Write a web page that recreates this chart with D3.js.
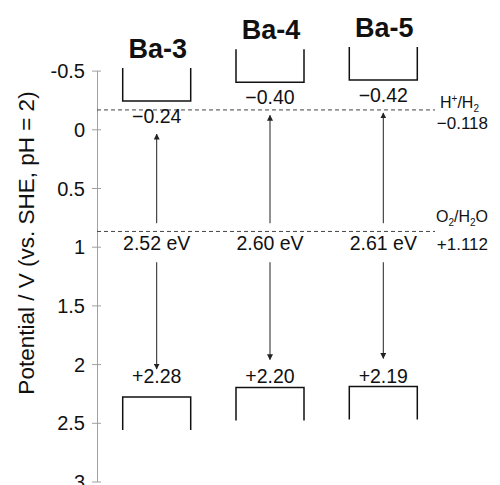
<!DOCTYPE html>
<html>
<head>
<meta charset="utf-8">
<script src="https://cdn.jsdelivr.net/npm/d3@7"></script>
<style>
  body { margin: 0; background: #fff; }
  svg { display: block; font-family: "Liberation Sans", Arial, sans-serif; }
</style>
</head>
<body>
<div id="chart"></div>
<script>
// band edge data (V vs. SHE, pH = 2)
const materials = ['Ba-3', 'Ba-4', 'Ba-5'];
const cbValues = [-0.24, -0.40, -0.42];
const vbValues = [2.28, 2.20, 2.19];
const cbLabels = ['\u22120.24', '\u22120.40', '\u22120.42'];
const vbLabels = ['+2.28', '+2.20', '+2.19'];
const gapLabels = ['2.52 eV', '2.60 eV', '2.61 eV'];

// redox levels: where the dashed line sits on the axis, and its printed value
const redoxPos = [-0.165, 0.87];
const redoxValues = ['\u22120.118', '+1.112'];

const yTicks = [-0.5, 0, 0.5, 1, 1.5, 2, 2.5, 3];

const width = 500;
const height = 485;
const axisX = 97;
const boxW = 68;
const boxH = 33;

const svg = d3.select('#chart')
    .append('svg')
    .attr('width', width)
    .attr('height', height);

const yScale = d3.scaleLinear().domain([-0.5, 3]).range([70.6, 481.5]);
const xScale = d3.scalePoint().domain(materials).range([156.7, 383.3]);

// arrow head
svg.append('defs').append('marker')
    .attr('id', 'head')
    .attr('viewBox', '0 0 10 10')
    .attr('refX', 9)
    .attr('refY', 5)
    .attr('markerWidth', 6)
    .attr('markerHeight', 6)
    .attr('markerUnits', 'userSpaceOnUse')
    .attr('orient', 'auto')
    .append('path')
    .attr('d', 'M0,0L10,5L0,10z')
    .attr('fill', '#222');

// Y axis
const axis = svg.append('g')
    .attr('transform', `translate(${axisX},0)`)
    .call(d3.axisLeft(yScale).tickValues(yTicks).tickSizeOuter(0).tickFormat(d => String(d)));

axis.select('.domain').attr('stroke', '#a0a0a0');
axis.selectAll('.tick line').attr('stroke', '#a0a0a0').attr('x1', 4).attr('x2', -5);
axis.selectAll('.tick text')
    .attr('x', -12)
    .attr('dy', '0.35em')
    .attr('fill', '#111')
    .style('font-size', '20px')
    .style('font-family', '"Liberation Sans", Arial, sans-serif');

svg.append('text')
    .attr('transform', `translate(34,243) rotate(-90)`)
    .attr('text-anchor', 'middle')
    .style('font-size', '22.5px')
    .attr('fill', '#111')
    .text('Potential / V (vs. SHE, pH = 2)');

// redox dashed lines
svg.append('g')
    .selectAll('line')
    .data(redoxPos)
    .enter()
    .append('line')
    .attr('x1', axisX)
    .attr('x2', 435)
    .attr('y1', d => yScale(d))
    .attr('y2', d => yScale(d))
    .attr('stroke', '#444')
    .attr('stroke-width', 1)
    .attr('stroke-dasharray', '4,3');

const gapY = yScale(1.03);

const redoxName = svg.append('g').style('font-size', '16px').attr('fill', '#111');

const h = redoxName.append('text')
    .attr('x', 440)
    .attr('y', yScale(redoxPos[0]) - 2);
h.append('tspan').text('H');
h.append('tspan').attr('dy', -6).style('font-size', '10px').text('+');
h.append('tspan').attr('dy', 6).text('/H');
h.append('tspan').attr('dy', 4).style('font-size', '10px').text('2');

const o = redoxName.append('text')
    .attr('x', 436)
    .attr('y', yScale(redoxPos[1]) - 9);
o.append('tspan').text('O');
o.append('tspan').attr('dy', 4).style('font-size', '10px').text('2');
o.append('tspan').attr('dy', -4).text('/H');
o.append('tspan').attr('dy', 4).style('font-size', '10px').text('2');
o.append('tspan').attr('dy', -4).text('O');

svg.append('g')
    .selectAll('text')
    .data(redoxValues)
    .enter()
    .append('text')
    .attr('x', 488)
    .attr('y', (d, i) => i === 0 ? yScale(redoxPos[i]) + 19 : gapY)
    .attr('text-anchor', 'end')
    .style('font-size', '17px')
    .attr('fill', '#111')
    .text(d => d);

// one group per material
const groups = svg.append('g')
    .selectAll('g')
    .data(materials)
    .enter()
    .append('g');

// conduction band bracket (open at top)
groups.append('path')
    .attr('d', (d, i) => {
        const x0 = xScale(d) - boxW / 2, x1 = xScale(d) + boxW / 2, y = yScale(cbValues[i]);
        return `M${x0},${y - boxH}V${y}H${x1}V${y - boxH}`;
    })
    .attr('fill', 'none')
    .attr('stroke', '#111')
    .attr('stroke-width', 1.5);

// valence band bracket (open at bottom)
groups.append('path')
    .attr('d', (d, i) => {
        const x0 = xScale(d) - boxW / 2, x1 = xScale(d) + boxW / 2, y = yScale(vbValues[i]);
        return `M${x0},${y + boxH}V${y}H${x1}V${y + boxH}`;
    })
    .attr('fill', 'none')
    .attr('stroke', '#111')
    .attr('stroke-width', 1.5);

// titles
groups.append('text')
    .attr('x', d => xScale(d) + 1)
    .attr('y', (d, i) => yScale(cbValues[i]) - boxH - 10)
    .attr('text-anchor', 'middle')
    .style('font-size', '27px')
    .style('font-weight', 'bold')
    .attr('fill', '#111')
    .text(d => d);

groups.append('text')
    .attr('x', d => xScale(d))
    .attr('y', (d, i) => yScale(cbValues[i]) + 22)
    .attr('text-anchor', 'middle')
    .style('font-size', '19.5px')
    .attr('fill', '#111')
    .text((d, i) => cbLabels[i]);

const vbLabelY = yScale(2.19) - 3;
groups.append('text')
    .attr('x', d => xScale(d))
    .attr('y', vbLabelY)
    .attr('text-anchor', 'middle')
    .style('font-size', '19.5px')
    .attr('fill', '#111')
    .text((d, i) => vbLabels[i]);

groups.append('text')
    .attr('x', d => xScale(d))
    .attr('y', gapY)
    .attr('text-anchor', 'middle')
    .style('font-size', '19.5px')
    .attr('fill', '#111')
    .text((d, i) => gapLabels[i]);

// arrows, split around the gap label
groups.append('line')
    .attr('x1', d => xScale(d))
    .attr('x2', d => xScale(d))
    .attr('y1', gapY - 27)
    .attr('y2', (d, i) => yScale(cbValues[i]) + 33)
    .attr('stroke', '#222')
    .attr('stroke-width', 1)
    .attr('marker-end', 'url(#head)');

groups.append('line')
    .attr('x1', d => xScale(d))
    .attr('x2', d => xScale(d))
    .attr('y1', gapY + 12)
    .attr('y2', (d, i) => yScale(vbValues[i]) - 28)
    .attr('stroke', '#222')
    .attr('stroke-width', 1)
    .attr('marker-end', 'url(#head)');
</script>
</body>
</html>
